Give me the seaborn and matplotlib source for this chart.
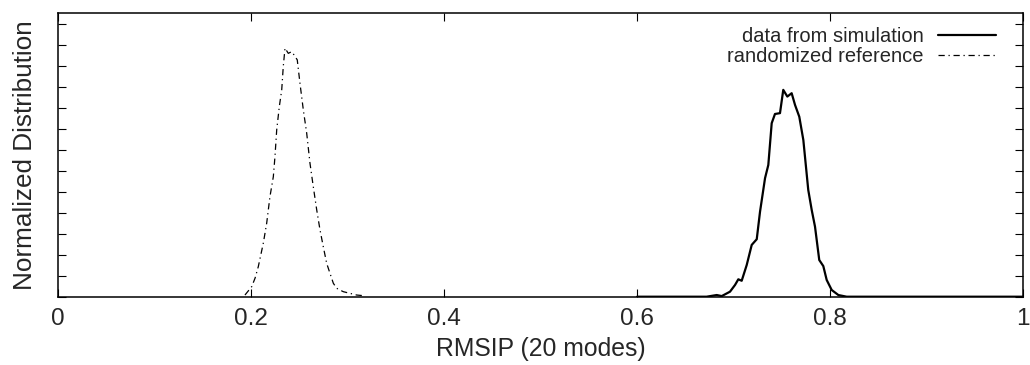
import numpy as np
import pandas as pd
import matplotlib
matplotlib.use("Agg")
import matplotlib.pyplot as plt
import seaborn as sns

# ---- data ----
sim_x = [0.600, 0.672, 0.6825, 0.6877, 0.6963, 0.7015, 0.7049, 0.7084, 0.7136, 0.7188,
         0.7240, 0.7274, 0.7326, 0.7360, 0.7395, 0.7429, 0.7481, 0.7515, 0.7557, 0.7602,
         0.7637, 0.7681, 0.7723, 0.7774, 0.7810, 0.7844, 0.7888, 0.7930, 0.7965, 0.8017,
         0.8086, 0.8172, 1.000]
sim_y = [0.00, 0.00, 0.08, 0.03, 0.24, 0.56, 0.83, 0.76, 1.51, 2.47,
         2.74, 4.05, 5.65, 6.28, 8.27, 8.71, 8.75, 9.86, 9.54, 9.70,
         9.14, 8.58, 7.47, 5.09, 4.13, 3.34, 1.75, 1.46, 0.80, 0.32,
         0.08, 0.00, 0.00]

rand_x = [0.1935, 0.2005, 0.2040, 0.2073, 0.2125, 0.2160, 0.2194, 0.2229, 0.2246,
          0.2264, 0.2291, 0.2316, 0.2332, 0.2350, 0.2384, 0.2419, 0.2443, 0.2477, 0.2505,
          0.2540, 0.2575, 0.2609, 0.2643, 0.2679, 0.2713, 0.2747, 0.2782, 0.2816, 0.2851,
          0.2886, 0.2954, 0.3024, 0.3093, 0.3162]
rand_y = [0.08, 0.48, 0.89, 1.43, 2.55, 3.50, 4.77, 5.72, 6.68,
          7.95, 9.06, 9.86, 10.97, 11.85, 11.60, 11.68, 11.53, 11.29, 10.18,
          8.90, 7.79, 6.36, 5.25, 4.13, 3.18, 2.38, 1.59, 1.12, 0.64,
          0.40, 0.24, 0.16, 0.08, 0.05]

series_labels = ["data from simulation", "randomized reference"]
x_ticks = [0, 0.2, 0.4, 0.6, 0.8, 1.0]
x_tick_labels = ["0", "0.2", "0.4", "0.6", "0.8", "1"]
y_ticks = list(range(0, 14))
x_label = "RMSIP (20 modes)"
y_label = "Normalized Distribution"

# ---- style ----
sns.set_style("ticks")
plt.rcParams["font.family"] = ["Liberation Sans", "DejaVu Sans"]

fig = plt.figure(figsize=(10.3, 3.65), dpi=100)
ax = fig.add_axes([0.0566, 0.1871, 0.9366, 0.7765])

df_sim = pd.DataFrame({"x": sim_x, "y": sim_y})
df_rand = pd.DataFrame({"x": rand_x, "y": rand_y})

sns.lineplot(data=df_sim, x="x", y="y", ax=ax, color="black", linewidth=1.6,
             sort=False, estimator=None, label=series_labels[0])
sns.lineplot(data=df_rand, x="x", y="y", ax=ax, color="black", linewidth=0.9,
             linestyle=(0, (5, 3, 1, 3)), sort=False, estimator=None,
             label=series_labels[1])

ax.set_xlim(0, 1)
ax.set_ylim(0, 13.51)
ax.set_xticks(x_ticks)
ax.set_xticklabels(x_tick_labels)
ax.set_yticks(y_ticks)
ax.set_yticklabels([])
ax.tick_params(axis="both", direction="in", length=6, width=0.8, color="black",
               top=True, right=True, labelsize=17.5, pad=8)
for s in ax.spines.values():
    s.set_linewidth(1.1)
    s.set_color("black")

ax.set_xlabel(x_label, fontsize=17.8, labelpad=5.5)
ax.set_ylabel(y_label, fontsize=18.8, labelpad=7)

leg = ax.legend(loc="upper right", bbox_to_anchor=(0.985, 0.995), frameon=False,
                markerfirst=False, fontsize=14.5, handlelength=2.9,
                handletextpad=0.7, labelspacing=0.05, borderaxespad=0.2)

fig.savefig("out.png", dpi=100)
